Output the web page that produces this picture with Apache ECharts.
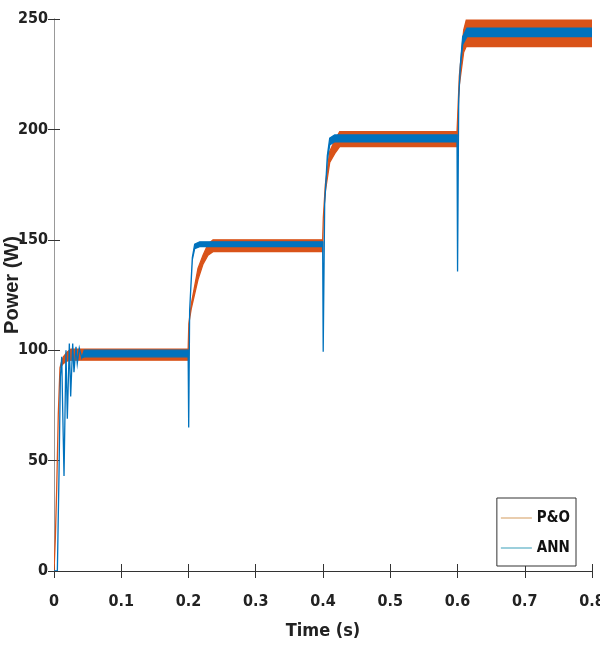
<!DOCTYPE html>
<html>
<head>
<meta charset="utf-8">
<script src="https://cdn.jsdelivr.net/npm/echarts@6/dist/echarts.min.js"></script>
<style>
  body { margin: 0; background: #fff; }
  #chart { width: 600px; height: 645px; }
</style>
</head>
<body>
<div id="chart"></div>
<script>
// power tracking chart: P&O vs ANN, ripple drawn as upper/lower envelope band

// P&O (orange)
const poTime = [0, 0.002, 0.004, 0.0064, 0.0089, 0.0115, 0.014, 0.019, 0.025, 0.1995,
  0.2005, 0.2042, 0.2141, 0.2216, 0.229, 0.2364, 0.3995,
  0.4005, 0.4035, 0.41, 0.4174, 0.4248, 0.5993,
  0.6003, 0.6027, 0.6092, 0.613, 0.8]
const poHigh = [0, 15, 37, 71, 92, 95, 97, 99, 100.5, 100.5,
  112, 121, 137, 143, 148, 150, 150,
  160, 175, 190, 195, 199, 199,
  206, 224, 245, 249.5, 249.5]
const poLow = [0, 15, 37, 71, 92, 93, 94, 95, 95.5, 95.5,
  112, 119, 132, 139, 143, 144.6, 144.6,
  160, 172, 185, 189, 192.2, 192.2,
  204, 220, 235, 237.5, 237.5]

// ANN (blue)
const annTime = [0, 0.005, 0.0075, 0.0095, 0.0115, 0.013, 0.0149, 0.0178, 0.0198, 0.0228,
  0.0248, 0.0278, 0.0297, 0.0327, 0.0346, 0.0376, 0.0412, 0.045, 0.1995,
  0.2003, 0.2017, 0.2057, 0.2092, 0.2166, 0.3995,
  0.4003, 0.4025, 0.4064, 0.41, 0.4174, 0.5993,
  0.6001, 0.6018, 0.6042, 0.6077, 0.6141, 0.8]
const annHigh = [0, 0, 45, 88, 97, 72, 43, 100, 69, 103,
  79, 103, 90, 101.5, 94, 101, 96.5, 100, 100,
  65, 118, 142, 148, 149.1, 149.1,
  99.3, 166.5, 188, 196, 197.5, 197.5,
  135.6, 214, 229, 242, 245.8, 245.8]
const annLow = [0, 0, 45, 88, 97, 72, 43, 100, 69, 103,
  79, 103, 90, 101.5, 94, 101, 96.5, 97, 97,
  65, 118, 141, 146, 146.9, 146.9,
  99.3, 166.5, 186, 193, 194.4, 194.4,
  135.6, 214, 228, 238.5, 242, 242]

const xTicks = [0, 0.1, 0.2, 0.3, 0.4, 0.5, 0.6, 0.7, 0.8]
const yTicks = [0, 50, 100, 150, 200, 250]

const orange = '#D95319'
const blue = '#0072BD'
const narrowFont = '"Liberation Sans Narrow", "DejaVu Sans Condensed", "Roboto Condensed", sans-serif'

// band polygon: along the upper envelope, back along the lower one
const band = (t, hi, lo, color) => (params, api) => {
  if (params.dataIndex !== 0) return null
  const pts = []
  t.forEach((x, i) => pts.push(api.coord([x, hi[i]])))
  for (let i = t.length - 1; i >= 0; i--) pts.push(api.coord([t[i], lo[i]]))
  return {
    type: 'polygon',
    shape: { points: pts },
    style: { fill: color, stroke: color, lineWidth: 1.3 }
  }
}

const chart = echarts.init(document.getElementById('chart'))

const boxAxis = {
  min: 0,
  splitLine: { show: false },
  axisTick: { show: true, inside: true, length: 6, lineStyle: { color: '#333' } }
}

const option = {
  animation: false,
  grid: { left: 54, right: 8, top: 19, bottom: 74, containLabel: false, outerBoundsMode: 'none' },
  legend: {
    orient: 'vertical',
    right: 24,
    top: 498,
    padding: [12, 6, 10, 4],
    itemGap: 14,
    itemWidth: 31,
    itemHeight: 2,
    backgroundColor: '#fff',
    borderColor: '#333',
    borderWidth: 1,
    textStyle: { fontFamily: narrowFont, fontWeight: 'bold', fontSize: 15, lineHeight: 16, color: '#111' },
    data: [
      { name: 'P&O', icon: 'rect', itemStyle: { color: '#e9cdae' } },
      { name: 'ANN', icon: 'rect', itemStyle: { color: '#9ccfdc' } }
    ]
  },
  xAxis: [
    {
      ...boxAxis,
      type: 'value',
      max: 0.8,
      interval: 0.1,
      name: 'Time (s)',
      nameLocation: 'middle',
      nameGap: 51,
      nameMoveOverlap: false,
      nameTextStyle: { fontFamily: narrowFont, fontWeight: 'bold', fontSize: 18, color: '#222' },
      axisLine: { show: true, lineStyle: { color: '#333', width: 1 } },
      axisTick: { ...boxAxis.axisTick, length: 7 },
      axisLabel: {
        margin: 22,
        fontFamily: narrowFont, fontWeight: 'bold', fontSize: 16, lineHeight: 18, color: '#222',
        formatter: v => String(xTicks.find(t => Math.abs(t - v) < 1e-9) ?? v)
      }
    },
    {
      ...boxAxis,
      type: 'value',
      position: 'top',
      max: 0.8,
      interval: 0.1,
      axisLine: { show: true, lineStyle: { color: '#333', width: 1 } },
      axisTick: { ...boxAxis.axisTick, length: 7 },
      axisLabel: { show: false }
    }
  ],
  yAxis: [
    {
      ...boxAxis,
      type: 'value',
      max: yTicks[yTicks.length - 1],
      interval: 50,
      name: 'Power (W)',
      nameLocation: 'middle',
      nameGap: 32,
      nameMoveOverlap: false,
      nameTextStyle: {
        fontFamily: 'Liberation Sans, Arial, sans-serif', fontWeight: 'bold', fontSize: 20, color: '#222',
        padding: [0, 0, 0, 20]
      },
      axisLine: { show: true, lineStyle: { color: '#999', width: 1 } },
      axisLabel: { margin: 6, fontFamily: narrowFont, fontWeight: 'bold', fontSize: 16, color: '#222' }
    },
    {
      ...boxAxis,
      type: 'value',
      position: 'right',
      max: 250,
      interval: 50,
      axisLine: { show: true, lineStyle: { color: '#999', width: 1 } },
      axisLabel: { show: false }
    }
  ],
  series: [
    {
      name: 'P&O',
      type: 'custom',
      xAxisIndex: 0,
      yAxisIndex: 0,
      clip: true,
      silent: true,
      z: 2,
      itemStyle: { color: orange },
      renderItem: band(poTime, poHigh, poLow, orange),
      data: poTime.map((t, i) => [t, poHigh[i], poLow[i]])
    },
    {
      name: 'ANN',
      type: 'custom',
      xAxisIndex: 0,
      yAxisIndex: 0,
      clip: true,
      silent: true,
      z: 3,
      itemStyle: { color: blue },
      renderItem: band(annTime, annHigh, annLow, blue),
      data: annTime.map((t, i) => [t, annHigh[i], annLow[i]])
    }
  ]
}

chart.setOption(option)
</script>
</body>
</html>
